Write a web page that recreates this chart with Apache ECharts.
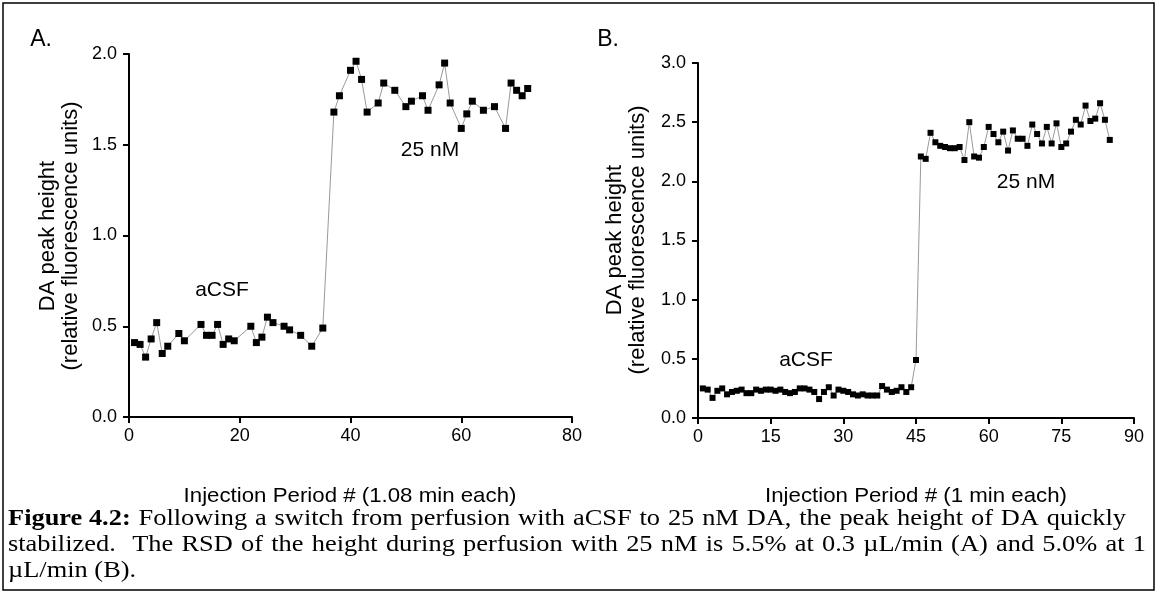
<html>
<head>
  <meta charset="utf-8">
  <style>
    html, body { margin: 0; padding: 0; background: #fff; }
    #container { width: 1160px; height: 595px; }
  </style>
</head>
<body>
<div id="container"></div>
<script type="text/javascript" src="https://fastly.jsdelivr.net/npm/echarts@6.0.0/dist/echarts.min.js"></script>
<script type="text/javascript">
  var dom = document.getElementById('container');
  var myChart = echarts.init(dom, null, { renderer: 'canvas' });

  // panel A: injection period # (1.08 min each) vs DA peak height
  const aX = [1, 2, 3, 4, 5, 6, 7, 9, 10, 13, 14, 15, 16, 17, 18, 19, 22, 23, 24, 25, 26, 28, 29, 31, 33, 35,
              37, 38, 40, 41, 42, 43, 45, 46, 48, 50, 51, 53, 54, 56, 57, 58, 60, 61, 62, 64, 66, 68, 69, 70, 71, 72];
  const aY = [0.41, 0.40, 0.33, 0.43, 0.52, 0.35, 0.39, 0.46, 0.42, 0.51, 0.45, 0.45, 0.51, 0.40, 0.43, 0.42, 0.50, 0.41, 0.44, 0.55, 0.52, 0.50, 0.48, 0.45, 0.39, 0.49,
              1.68, 1.77, 1.91, 1.96, 1.86, 1.68, 1.73, 1.84, 1.80, 1.71, 1.74, 1.77, 1.69, 1.83, 1.95, 1.73, 1.59, 1.67, 1.74, 1.69, 1.71, 1.59, 1.84, 1.80, 1.77, 1.81];

  // panel B: injection period # (1 min each)
  const bX = [1, 2, 3, 4, 5, 6, 7, 8, 9, 10, 11, 12, 13, 14, 15, 16, 17, 18, 19, 20, 21, 22, 23, 24, 25, 26, 27, 28, 29, 30,
              31, 32, 33, 34, 35, 36, 37, 38, 39, 40, 41, 42, 43, 44, 45, 46, 47, 48, 49, 50, 51, 52, 53, 54, 55, 56, 57, 58, 59, 60,
              61, 62, 63, 64, 65, 66, 67, 68, 69, 70, 71, 72, 73, 74, 75, 76, 77, 78, 79, 80, 81, 82, 83, 84, 85];
  const bY = [0.25, 0.24, 0.17, 0.23, 0.25, 0.20, 0.22, 0.23, 0.24, 0.21, 0.21, 0.24, 0.23, 0.24, 0.24, 0.23, 0.24, 0.22, 0.21, 0.22,
              0.25, 0.25, 0.24, 0.22, 0.16, 0.22, 0.26, 0.19, 0.24, 0.23, 0.22, 0.20, 0.19, 0.20, 0.19, 0.19, 0.19, 0.27, 0.24, 0.22,
              0.23, 0.26, 0.22, 0.26, 0.49,
              2.21, 2.19, 2.41, 2.33, 2.30, 2.29, 2.28, 2.28, 2.29, 2.18, 2.50, 2.21, 2.20, 2.29, 2.46, 2.40, 2.33, 2.42, 2.26, 2.43,
              2.36, 2.36, 2.30, 2.48, 2.40, 2.32, 2.46, 2.32, 2.49, 2.29, 2.32, 2.42, 2.52, 2.48, 2.64, 2.51, 2.53, 2.66, 2.52, 2.35];

  const captionBold = 'Figure 4.2:';
  const captionLines = [
    'Following a switch from perfusion with aCSF to 25 nM DA, the peak height of DA quickly',
    'stabilized.  The RSD of the height during perfusion with 25 nM is 5.5% at 0.3 \u00b5L/min (A) and 5.0% at 1',
    '\u00b5L/min (B).'
  ];

  const sans = "'Liberation Sans', Arial, sans-serif";
  const serif = "'Liberation Serif', 'Times New Roman', serif";
  const capSize = 24;
  const capScale = 1.1;

  function pairs(xs, ys) {
    return xs.map((x, i) => [x, ys[i]]);
  }

  function xAxisOf(idx, max, interval) {
    return {
      type: 'value', gridIndex: idx, min: 0, max: max, interval: interval,
      axisLine: { show: true, onZero: false, lineStyle: { color: '#000', width: 2 } },
      axisTick: { show: true, length: 6, lineStyle: { color: '#000', width: 2 } },
      axisLabel: { color: '#000', fontSize: 18, fontFamily: sans, margin: 10 },
      splitLine: { show: false }
    };
  }

  function yAxisOf(idx, max) {
    return {
      type: 'value', gridIndex: idx, min: 0, max: max, interval: 0.5,
      axisLine: { show: true, onZero: false, lineStyle: { color: '#000', width: 2 } },
      axisTick: { show: true, length: 6, lineStyle: { color: '#000', width: 2 } },
      axisLabel: { color: '#000', fontSize: 18, fontFamily: sans, margin: 12, formatter: (v) => v.toFixed(1) },
      splitLine: { show: false }
    };
  }

  function seriesOf(idx, data, size) {
    return {
      type: 'line', xAxisIndex: idx, yAxisIndex: idx, data: data,
      symbol: 'rect', symbolSize: size, showSymbol: true,
      lineStyle: { color: '#9a9a9a', width: 1 },
      itemStyle: { color: '#000' },
      animation: false
    };
  }

  function label(x, y, text, size, rot, sx) {
    return {
      type: 'text', x: x, y: y, rotation: rot || 0, scaleX: sx || 1,
      style: { text: text, font: size + 'px ' + sans, fill: '#000', align: 'center', verticalAlign: 'middle' }
    };
  }

  var graphics = [
    { type: 'rect', shape: { x: 3, y: 3, width: 1151, height: 587 }, style: { fill: 'none', stroke: '#000', lineWidth: 1.5 } },
    label(41, 40, 'A.', 23),
    label(608, 40, 'B.', 23),
    label(48, 236, 'DA peak height', 22, Math.PI / 2),
    label(71, 236, '(relative fluorescence units)', 22, Math.PI / 2),
    label(615, 240, 'DA peak height', 22, Math.PI / 2),
    label(638, 240, '(relative fluorescence units)', 22, Math.PI / 2),
    label(350, 496, 'Injection Period # (1.08 min each)', 21, 0, 1.06),
    label(916, 496, 'Injection Period # (1 min each)', 21, 0, 1.06),
    label(222, 290, 'aCSF', 21),
    label(430, 150, '25 nM', 21),
    label(806, 360, 'aCSF', 21),
    label(1026, 182, '25 nM', 21)
  ];

  // caption: first two lines run out to the right edge, last line left as is
  var ctx = document.createElement('canvas').getContext('2d');
  function textWidth(t, bold) {
    ctx.font = (bold ? 'bold ' : '') + capSize + 'px ' + serif;
    return ctx.measureText(t).width * capScale;
  }
  const capRight = [1126, 1146, null];
  captionLines.forEach((line, i) => {
    var words = line.split(' ').map((w) => ({ text: w, bold: false }));
    if (i === 0) words.unshift({ text: captionBold, bold: true });
    var spaceW = textWidth(' ', false);
    var natural = words.reduce((s, w) => s + textWidth(w.text, w.bold), 0) + spaceW * (words.length - 1);
    var extra = capRight[i] ? (capRight[i] - 8 - natural) / (words.length - 1) : 0;
    var x = 8;
    words.forEach((w) => {
      if (w.text) {
        graphics.push({
          type: 'text', x: x, y: 519 + i * 26, scaleX: capScale,
          style: {
            text: w.text, font: (w.bold ? 'bold ' : '') + capSize + 'px ' + serif,
            fill: '#000', align: 'left', verticalAlign: 'middle'
          }
        });
      }
      x += textWidth(w.text, w.bold) + spaceW + extra;
    });
  });

  var option = {
    backgroundColor: '#fff',
    animation: false,
    grid: [
      { left: 129, top: 54, width: 443, height: 363 },
      { left: 698, top: 63, width: 436, height: 355 }
    ],
    xAxis: [xAxisOf(0, 80, 20), xAxisOf(1, 90, 15)],
    yAxis: [yAxisOf(0, 2), yAxisOf(1, 3)],
    series: [seriesOf(0, pairs(aX, aY), 7), seriesOf(1, pairs(bX, bY), 6)],
    graphic: graphics
  };

  myChart.setOption(option);
</script>
</body>
</html>
